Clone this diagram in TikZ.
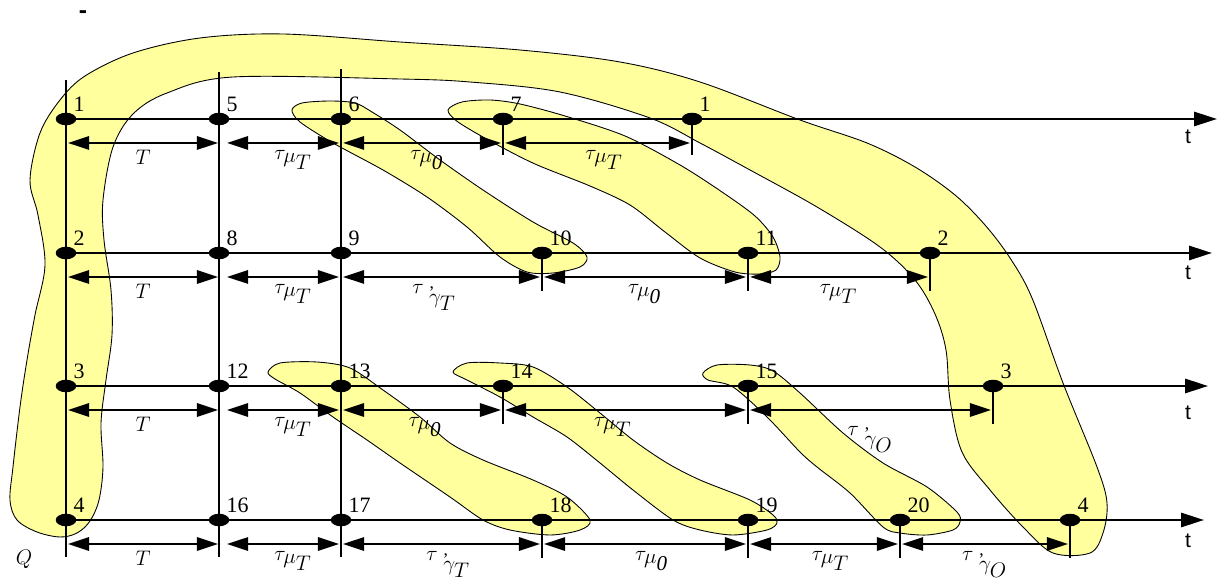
\documentclass[tikz,border=0pt]{standalone}
\usepackage{fontspec}
\setmainfont{Liberation Serif}
\newfontfamily\axisfont{Liberation Sans}
\usetikzlibrary{shapes.geometric, arrows.meta, calc}
\definecolor{bandyellow}{RGB}{255,255,158}
\newcommand{\pgam}{\mbox{\raisebox{1.6ex}{\fontsize{10}{12}\selectfont,}}\mkern-4mu\gamma}
\newcommand{\tmu}[1]{$\tau_{\textstyle\mu_{\textstyle #1}}$}
\newcommand{\tgam}[1]{$\tau_{\;\;\textstyle\pgam_{\textstyle #1}}$}
\tikzset{
  dot/.style    = {ellipse, fill=black, inner sep=0pt, minimum width=0.41cm, minimum height=0.25cm},
  numlbl/.style = {font=\fontsize{12.5}{14}\selectfont, inner sep=0pt, xshift=1pt, yshift=1pt},
  grid/.style   = {line width=1.4pt},
  axis/.style   = {line width=1.4pt, -{Triangle[length=13pt, width=8pt]}},
  tick/.style   = {line width=1.4pt},
  dim/.style    = {line width=1.4pt, {Triangle[length=12pt, width=7.5pt]}-{Triangle[length=12pt, width=7.5pt]}},
  dimlbl/.style = {font=\fontsize{12}{14}\selectfont, inner sep=3.5pt, below},
  band/.style   = {fill=bandyellow, draw=black, line width=0.5pt},
  tlbl/.style   = {font=\axisfont\fontsize{12}{14}\selectfont},
}

\begin{document}
\begin{tikzpicture}[x=0.2mm, y=-0.2mm]
  \useasboundingbox (0,0) rectangle (1220,580);

  % Bands
  \draw[band] plot[smooth cycle, tension=0.55] coordinates {
    (60,537) (37,532) (17,520) (10,500) (13,467) (20,407) (27,360) (35,315)
    (45,265) (38,215) (30,180) (40,133) (60,100) (85,76) (133,53) (200,38)
    (283,34) (400,42) (520,50) (620,62) (700,82) (800,120) (867,143) (915,167)
    (955,195) (985,225) (1010,258) (1032,298) (1063,383) (1097,467) (1107,503)
    (1103,533) (1090,553) (1053,553) (1023,527) (990,490) (962,452) (950,400)
    (946,350) (935,314) (915,280) (880,247) (817,207) (750,170) (700,143)
    (650,118) (560,92) (470,82) (400,79) (233,77) (167,93) (133,114) (113,147)
    (103,200) (104,240) (111,290) (112,335) (106,380) (101,423) (103,467)
    (99,500) (90,521) (77,533)};
  \draw[band] plot[smooth cycle, tension=0.5] coordinates {
    (292,110) (302,103) (330,101) (355,103) (372,112) (400,130) (440,160)
    (483,190) (533,222) (573,243) (587,257) (580,267) (553,273) (527,272)
    (500,257) (467,227) (427,197) (383,170) (333,143) (300,122)};
  \draw[band] plot[smooth cycle, tension=0.5] coordinates {
    (448,110) (462,102) (490,100) (520,104) (565,116) (625,136) (680,165)
    (722,192) (755,216) (773,237) (780,257) (776,270) (760,274) (735,272)
    (700,258) (665,232) (630,205) (590,186) (535,164) (492,142) (458,122)};
  \draw[band] plot[smooth cycle, tension=0.5] coordinates {
    (268,372) (280,363) (317,362) (350,368) (383,390) (420,417) (450,443)
    (483,460) (533,480) (567,497) (590,520) (580,530) (550,535) (510,530)
    (483,520) (450,497) (400,463) (367,440) (333,417) (300,393) (275,379)};
  \draw[band] plot[smooth cycle, tension=0.5] coordinates {
    (453,372) (467,363) (500,363) (533,367) (567,387) (600,413) (633,440)
    (667,463) (700,480) (750,500) (773,515) (777,523) (767,530) (733,535)
    (700,530) (673,520) (633,490) (600,463) (567,437) (533,417) (500,397)
    (467,380)};
  \draw[band] plot[smooth cycle, tension=0.5] coordinates {
    (703,373) (717,365) (750,365) (773,371) (800,393) (843,433) (883,463)
    (927,487) (957,512) (960,522) (953,530) (927,535) (900,533) (883,527)
    (850,493) (817,467) (800,452) (767,417) (733,387) (708,380)};

  % Points, row 1
  \node[dot, label={[numlbl]above right:1}]  (n1)  at (66,119) {};
  \node[dot, label={[numlbl]above right:5}]  (n5)  at (219,119) {};
  \node[dot, label={[numlbl]above right:6}]  (n6)  at (341,119) {};
  \node[dot, label={[numlbl]above right:7}]  (n7)  at (503,119) {};
  \node[dot, label={[numlbl]above right:1}]  (m1)  at (692,119) {};
  % Points, row 2
  \node[dot, label={[numlbl]above right:2}]  (n2)  at (66,253) {};
  \node[dot, label={[numlbl]above right:8}]  (n8)  at (219,253) {};
  \node[dot, label={[numlbl]above right:9}]  (n9)  at (341,253) {};
  \node[dot, label={[numlbl]above right:10}] (n10) at (542,253) {};
  \node[dot, label={[numlbl]above right:11}] (n11) at (748,253) {};
  \node[dot, label={[numlbl]above right:2}]  (m2)  at (930,253) {};
  % Points, row 3
  \node[dot, label={[numlbl]above right:3}]  (n3)  at (66,386) {};
  \node[dot, label={[numlbl]above right:12}] (n12) at (219,386) {};
  \node[dot, label={[numlbl]above right:13}] (n13) at (341,386) {};
  \node[dot, label={[numlbl]above right:14}] (n14) at (503,386) {};
  \node[dot, label={[numlbl]above right:15}] (n15) at (748,386) {};
  \node[dot, label={[numlbl]above right:3}]  (m3)  at (993,386) {};
  % Points, row 4
  \node[dot, label={[numlbl]above right:4}]  (n4)  at (66,520) {};
  \node[dot, label={[numlbl]above right:16}] (n16) at (219,520) {};
  \node[dot, label={[numlbl]above right:17}] (n17) at (341,520) {};
  \node[dot, label={[numlbl]above right:18}] (n18) at (542,520) {};
  \node[dot, label={[numlbl]above right:19}] (n19) at (748,520) {};
  \node[dot, label={[numlbl]above right:20}] (n20) at (900,520) {};
  \node[dot, label={[numlbl]above right:4}]  (m4)  at (1070,520) {};

  % Grid
  \coordinate (g1top) at (66,80);   \coordinate (g1bot) at (66,557);
  \coordinate (g2top) at (219,72);  \coordinate (g2bot) at (219,557);
  \coordinate (g3top) at (341,69);  \coordinate (g3bot) at (341,557);
  \draw[grid] (g1top) -- (g1bot);
  \draw[grid] (g2top) -- (g2bot);
  \draw[grid] (g3top) -- (g3bot);

  % Time axes
  \coordinate (e1) at (1217,119);
  \coordinate (e2) at (1212,253);
  \coordinate (e3) at (1208,386);
  \coordinate (e4) at (1204,520);
  \draw[axis] (n1.center) -- (e1);
  \draw[axis] (n2.center) -- (e2);
  \draw[axis] (n3.center) -- (e3);
  \draw[axis] (n4.center) -- (e4);
  \node[tlbl] (t1) at (1188,137) {t};
  \node[tlbl] (t2) at (1188,273) {t};
  \node[tlbl] (t3) at (1188,413) {t};
  \node[tlbl] (t4) at (1188,541) {t};

  % Ticks
  \draw[tick] (n7.center)  -- ++(0,36);
  \draw[tick] (m1.center)  -- ++(0,36);
  \draw[tick] (n10.center) -- ++(0,38);
  \draw[tick] (n11.center) -- ++(0,38);
  \draw[tick] (m2.center)  -- ++(0,38);
  \draw[tick] (n14.center) -- ++(0,38);
  \draw[tick] (n15.center) -- ++(0,38);
  \draw[tick] (m3.center)  -- ++(0,38);
  \draw[tick] (n18.center) -- ++(0,38);
  \draw[tick] (n19.center) -- ++(0,38);
  \draw[tick] (n20.center) -- ++(0,38);
  \draw[tick] (m4.center)  -- ++(0,38);

  % Intervals, row 1
  \draw[dim] ($(n1)+(2,24)$)  -- ($(n5)+(-1,24)$)  node[dimlbl, midway] {$T$};
  \draw[dim] ($(n5)+(8,24)$)  -- ($(n6)+(-2,24)$)  node[dimlbl, midway, xshift=6pt] {\tmu{T}};
  \draw[dim] ($(n6)+(2,24)$)  -- ($(n7)+(-2,24)$)  node[dimlbl, midway, xshift=3pt] {\tmu{\mathit{0}}};
  \draw[dim] ($(n7)+(2,24)$)  -- ($(m1)+(-2,24)$)  node[dimlbl, midway, xshift=4pt] {\tmu{T}};
  % Intervals, row 2
  \draw[dim] ($(n2)+(2,24)$)  -- ($(n8)+(-1,24)$)  node[dimlbl, midway] {$T$};
  \draw[dim] ($(n8)+(8,24)$)  -- ($(n9)+(-2,24)$)  node[dimlbl, midway, xshift=6pt] {\tmu{T}};
  \draw[dim] ($(n9)+(2,24)$)  -- ($(n10)+(-2,24)$) node[dimlbl, midway, xshift=-4pt] {\tgam{T}};
  \draw[dim] ($(n10)+(2,24)$) -- ($(n11)+(-2,24)$) node[dimlbl, midway] {\tmu{\mathit{0}}};
  \draw[dim] ($(n11)+(2,24)$) -- ($(m2)+(-2,24)$)  node[dimlbl, midway] {\tmu{T}};
  % Intervals, row 3
  \draw[dim] ($(n3)+(2,24)$)  -- ($(n12)+(-1,24)$) node[dimlbl, midway] {$T$};
  \draw[dim] ($(n12)+(8,24)$) -- ($(n13)+(-2,24)$) node[dimlbl, midway, xshift=6pt] {\tmu{T}};
  \draw[dim] ($(n13)+(2,24)$) -- ($(n14)+(-2,24)$) node[dimlbl, midway, xshift=2pt] {\tmu{\mathit{0}}};
  \draw[dim] ($(n14)+(2,24)$) -- ($(n15)+(-2,24)$) node[dimlbl, midway, xshift=-7pt] {\tmu{T}};
  \draw[dim] ($(n15)+(2,24)$) -- ($(m3)+(-2,24)$)  node[dimlbl, midway, yshift=-5pt] {\tgam{O}};
  % Intervals, row 4
  \draw[dim] ($(n4)+(2,24)$)  -- ($(n16)+(-1,24)$) node[dimlbl, midway] {$T$};
  \draw[dim] ($(n16)+(8,24)$) -- ($(n17)+(-2,24)$) node[dimlbl, midway, xshift=6pt] {\tmu{T}};
  \draw[dim] ($(n17)+(2,24)$) -- ($(n18)+(-2,24)$) node[dimlbl, midway, xshift=4pt] {\tgam{T}};
  \draw[dim] ($(n18)+(2,24)$) -- ($(n19)+(-2,24)$) node[dimlbl, midway, xshift=4pt] {\tmu{\mathit{0}}};
  \draw[dim] ($(n19)+(2,24)$) -- ($(n20)+(-2,24)$) node[dimlbl, midway, xshift=4pt] {\tmu{T}};
  \draw[dim] ($(n20)+(2,24)$) -- ($(m4)+(-2,24)$)  node[dimlbl, midway] {\tgam{O}};

  % Other marks
  \node (q) at (24,559) {\fontsize{12.5}{14}\selectfont$Q$};
  \node (dash) at (83,15) {\axisfont\bfseries\fontsize{14}{16}\selectfont -};
\end{tikzpicture}
\end{document}
